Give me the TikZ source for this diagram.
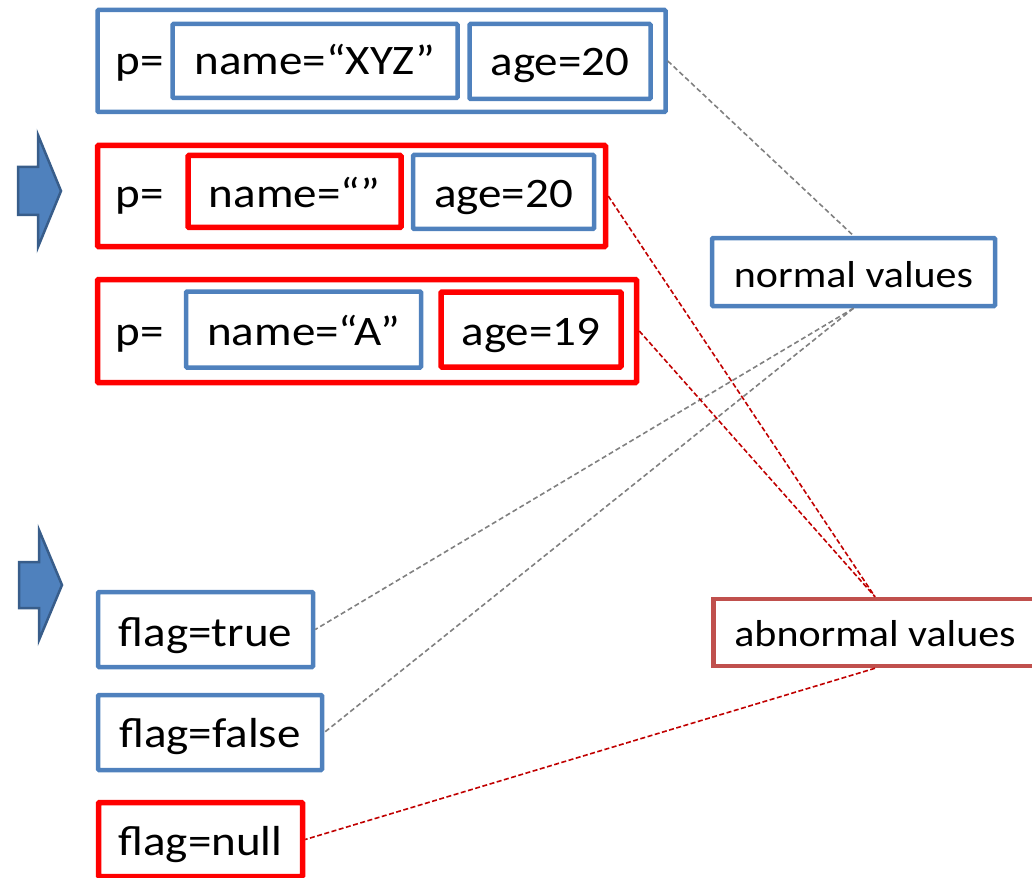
\documentclass[tikz,border=0pt]{standalone}
\usepackage{fontspec}
\setmainfont{Carlito}[FakeStretch=1.12]
\definecolor{boxblue}{HTML}{4F81BD}
\definecolor{arrowedge}{HTML}{385D8A}
\definecolor{boxred}{HTML}{FF0000}
\definecolor{abred}{HTML}{C0504D}
\definecolor{linegray}{HTML}{808080}
\definecolor{linered}{HTML}{C00000}
\tikzset{
  bigtext/.style={font=\fontsize{42}{48}\selectfont},
  smalltext/.style={font=\fontsize{37.5}{44}\selectfont},
  tb/.style={text height=#1, text depth=0pt},
  bluebox/.style={draw=boxblue, line width=4.5pt, rectangle, inner sep=0pt, rounded corners=1pt, bigtext},
  redbox/.style={draw=boxred, line width=5.5pt, rectangle, inner sep=0pt, rounded corners=1pt, bigtext},
  graylink/.style={draw=linegray, line width=1.6pt, dash pattern=on 5pt off 3pt},
  redlink/.style={draw=linered, line width=1.6pt, dash pattern=on 5pt off 2.5pt},
  blockarrow/.style={fill=boxblue, draw=arrowedge, line width=2.5pt, line join=miter},
}
\begin{document}
\begin{tikzpicture}[x=1pt,y=-1pt]
\useasboundingbox (0,0) rectangle (1032,877);
\clip (0,0) rectangle (1032,877);
% block arrows
\draw[blockarrow] (18,167) -- (38,167) -- (38,135) -- (61,191) -- (38,247) -- (38,215) -- (18,215) -- cycle;
\draw[blockarrow] (19,562) -- (39,562) -- (39,530) -- (62,585) -- (39,640) -- (39,608) -- (19,608) -- cycle;
% record 1
\node[bluebox, minimum width=568pt, minimum height=102pt] (b1) at (381.5,61) {};
\node[bigtext, anchor=base] (p1) at (140,75) {p=};
\node[bluebox, tb=28pt, minimum width=285pt, minimum height=74pt] (b1n) at (315,61) {name=“XYZ”};
\node[bluebox, tb=28pt, minimum width=181pt, minimum height=75pt] (b1a) at (560,61.5) {age=20};
% record 2
\node[redbox, minimum width=508pt, minimum height=101pt] (b2) at (351.5,196) {};
\node[bigtext, anchor=base] (p2) at (140,208) {p=};
\node[redbox, tb=32pt, minimum width=213pt, minimum height=72pt] (b2n) at (294.5,191.5) {name=“”};
\node[bluebox, tb=32pt, minimum width=181pt, minimum height=74pt] (b2a) at (503.5,192) {age=20};
% record 3
\node[redbox, minimum width=539pt, minimum height=103pt] (b3) at (367,331) {};
\node[bigtext, anchor=base] (p3) at (140,345) {p=};
\node[bluebox, tb=31pt, minimum width=235pt, minimum height=76pt] (b3n) at (303.5,329.5) {name=“A”};
\node[redbox, tb=31pt, minimum width=180pt, minimum height=75pt] (b3a) at (531,329.5) {age=19};
% flags
\node[bluebox, tb=33pt, minimum width=215pt, minimum height=75pt] (ft) at (205.5,629.5) {flag=true};
\node[bluebox, tb=29.5pt, minimum width=224pt, minimum height=75pt] (ff) at (210,732.5) {flag=false};
\node[redbox, tb=31pt, minimum width=204pt, minimum height=74pt] (fn) at (200.5,839.5) {flag=null};
% categories
\node[bluebox, smalltext, tb=30.5pt, minimum width=283pt, minimum height=68pt] (nv) at (853.5,272) {normal values};
\node[draw=abred, line width=4.5pt, rectangle, inner sep=0pt, smalltext, tb=27pt, minimum width=323pt, minimum height=67pt] (av) at (875,632.5) {abnormal values};
% connectors
\draw[graylink] (b1.east) -- (nv.north);
\draw[graylink] (nv.south) -- (ft.east);
\draw[graylink] (nv.south) -- (ff.east);
\draw[redlink] (b2.east) -- (av.north);
\draw[redlink] (b3.east) -- (av.north);
\draw[redlink] (av.south) -- (fn.east);
\end{tikzpicture}
\end{document}
